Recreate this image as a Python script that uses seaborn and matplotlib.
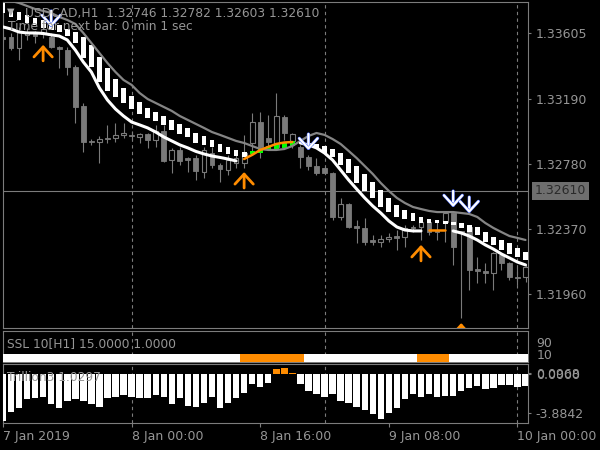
import numpy as np
import pandas as pd
import matplotlib
matplotlib.use("Agg")
import matplotlib.pyplot as plt
import matplotlib.patheffects as pe
import matplotlib.transforms as mtransforms
import seaborn as sns

#---
#data: USDCAD H1, one candle per hour from 7 Jan 2019 08:00
opens = [1.33580, 1.33580, 1.33511, 1.33593, 1.33605, 1.33599, 1.33580, 1.33517, 1.33498, 1.33391,
         1.33145, 1.32925, 1.32918, 1.32944, 1.32944, 1.32963, 1.32963, 1.32950, 1.32969, 1.32931,
         1.32988, 1.32805, 1.32868, 1.32817, 1.32817, 1.32729, 1.32849, 1.32773, 1.32742, 1.32786,
         1.32786, 1.32912, 1.33044, 1.32944, 1.32887, 1.33076, 1.32925, 1.32887, 1.32824, 1.32767,
         1.32755, 1.32723, 1.32446, 1.32528, 1.32389, 1.32377, 1.32301, 1.32289, 1.32307, 1.32326,
         1.32320, 1.32383, 1.32383, 1.32414, 1.32364, 1.32414, 1.32471, 1.32358, 1.32383, 1.32118,
         1.32106, 1.32093, 1.32207, 1.32156, 1.32068, 1.32068]
highs = [1.33593, 1.33605, 1.33643, 1.33637, 1.33618, 1.33656, 1.33605, 1.33523, 1.33517, 1.33404,
         1.33164, 1.32937, 1.32956, 1.33026, 1.33038, 1.33038, 1.32988, 1.32975, 1.32975, 1.33026,
         1.33026, 1.32881, 1.32887, 1.32824, 1.32837, 1.32887, 1.32887, 1.32786, 1.32837, 1.32837,
         1.32963, 1.33101, 1.33107, 1.33089, 1.33227, 1.33089, 1.32975, 1.32900, 1.32837, 1.32817,
         1.32767, 1.32729, 1.32566, 1.32534, 1.32427, 1.32440, 1.32333, 1.32333, 1.32345, 1.32364,
         1.32396, 1.32396, 1.32440, 1.32427, 1.32427, 1.32471, 1.32471, 1.32358, 1.32396, 1.32194,
         1.32156, 1.32225, 1.32219, 1.32162, 1.32131, 1.32144]
lows = [1.33548, 1.33498, 1.33435, 1.33561, 1.33542, 1.33574, 1.33511, 1.33385, 1.33341, 1.33038,
        1.32855, 1.32900, 1.32786, 1.32912, 1.32918, 1.32944, 1.32931, 1.32912, 1.32881, 1.32887,
        1.32792, 1.32723, 1.32773, 1.32729, 1.32679, 1.32692, 1.32755, 1.32666, 1.32711, 1.32755,
        1.32755, 1.32837, 1.32817, 1.32887, 1.32868, 1.32931, 1.32881, 1.32755, 1.32742, 1.32711,
        1.32717, 1.32427, 1.32427, 1.32377, 1.32282, 1.32270, 1.32270, 1.32257, 1.32289, 1.32238,
        1.32257, 1.32351, 1.32301, 1.32333, 1.32301, 1.32289, 1.32144, 1.31810, 1.31986, 1.32030,
        1.32030, 1.31986, 1.32112, 1.32049, 1.32018, 1.32037]
closes = [1.33567, 1.33511, 1.33611, 1.33611, 1.33586, 1.33630, 1.33517, 1.33504, 1.33391, 1.33139,
          1.32918, 1.32918, 1.32937, 1.32937, 1.32963, 1.32975, 1.32956, 1.32969, 1.32931, 1.32988,
          1.32799, 1.32868, 1.32799, 1.32805, 1.32736, 1.32868, 1.32773, 1.32748, 1.32805, 1.32817,
          1.32849, 1.33044, 1.32887, 1.32918, 1.33082, 1.32975, 1.32969, 1.32824, 1.32767, 1.32723,
          1.32723, 1.32446, 1.32528, 1.32383, 1.32377, 1.32289, 1.32289, 1.32307, 1.32320, 1.32314,
          1.32377, 1.32377, 1.32414, 1.32351, 1.32351, 1.32471, 1.32257, 1.32345, 1.32112, 1.32106,
          1.32093, 1.32219, 1.32156, 1.32068, 1.32062, 1.32131]

#white moving average (orange where trend is up)
ma_line = [1.33643, 1.33630, 1.33611, 1.33605, 1.33605, 1.33602, 1.33593, 1.33586, 1.33561, 1.33498,
           1.33422, 1.33359, 1.33259, 1.33183, 1.33126, 1.33082, 1.33044, 1.33026, 1.33007, 1.32981,
           1.32950, 1.32925, 1.32900, 1.32881, 1.32859, 1.32843, 1.32830, 1.32821, 1.32811, 1.32799,
           1.32811, 1.32837, 1.32868, 1.32887, 1.32906, 1.32915, 1.32918, 1.32912, 1.32900, 1.32881,
           1.32849, 1.32805, 1.32742, 1.32679, 1.32622, 1.32566, 1.32515, 1.32471, 1.32421, 1.32383,
           1.32364, 1.32358, 1.32358, 1.32364, 1.32364, 1.32364, 1.32358, 1.32345, 1.32326, 1.32301,
           1.32270, 1.32244, 1.32213, 1.32188, 1.32162, 1.32144]
ma_trend = "dddddddddd" "dddddddddd" "dddddddddd" "uuuuuuuddd" "dddddddddd" "ddduuudddd" "dddddd"

#grey upper line
upper_line = [1.33813, 1.33807, 1.33794, 1.33775, 1.33756, 1.33744, 1.33731, 1.33706, 1.33687, 1.33662,
              1.33605, 1.33542, 1.33479, 1.33416, 1.33359, 1.33309, 1.33278, 1.33227, 1.33189, 1.33164,
              1.33139, 1.33114, 1.33082, 1.33057, 1.33032, 1.33007, 1.32981, 1.32963, 1.32944, 1.32925,
              1.32912, 1.32893, 1.32874, 1.32868, 1.32868, 1.32874, 1.32893, 1.32925, 1.32956, 1.32975,
              1.32963, 1.32937, 1.32906, 1.32862, 1.32817, 1.32767, 1.32717, 1.32660, 1.32610, 1.32566,
              1.32534, 1.32509, 1.32496, 1.32484, 1.32477, 1.32477, 1.32477, 1.32471, 1.32465, 1.32446,
              1.32408, 1.32377, 1.32351, 1.32326, 1.32314, 1.32301]

#band blocks between the two lines
band_top = [1.33794, 1.33756, 1.33737, 1.33719, 1.33700, 1.33687, 1.33668, 1.33656, 1.33630, 1.33611,
            1.33580, 1.33530, 1.33454, 1.33385, 1.33315, 1.33259, 1.33208, 1.33170, 1.33133, 1.33107,
            1.33082, 1.33057, 1.33032, 1.33007, 1.32975, 1.32956, 1.32931, 1.32906, 1.32887, 1.32868,
            1.32855, 1.32862, 1.32874, 1.32893, 1.32906, 1.32918, 1.32925, np.nan, 1.32912, 1.32906,
            1.32893, 1.32874, 1.32849, 1.32811, 1.32767, 1.32717, 1.32666, 1.32616, 1.32566, 1.32522,
            1.32490, 1.32471, 1.32446, 1.32433, 1.32427, 1.32421, 1.32414, 1.32408, 1.32396, 1.32383,
            1.32351, 1.32320, 1.32301, 1.32282, 1.32251, 1.32225]
band_bot = [1.33731, 1.33706, 1.33687, 1.33668, 1.33656, 1.33637, 1.33624, 1.33611, 1.33586, 1.33542,
            1.33448, 1.33391, 1.33296, 1.33240, 1.33202, 1.33164, 1.33126, 1.33095, 1.33070, 1.33051,
            1.33026, 1.32994, 1.32969, 1.32950, 1.32912, 1.32900, 1.32887, 1.32855, 1.32843, 1.32830,
            1.32824, 1.32843, 1.32849, 1.32868, 1.32874, 1.32881, 1.32893, np.nan, 1.32887, 1.32881,
            1.32849, 1.32824, 1.32773, 1.32723, 1.32660, 1.32610, 1.32566, 1.32509, 1.32477, 1.32446,
            1.32433, 1.32421, 1.32408, 1.32408, 1.32408, 1.32402, 1.32396, 1.32377, 1.32351, 1.32333,
            1.32289, 1.32270, 1.32238, 1.32213, 1.32194, 1.32175]
band_trend = "dddddddddd" "dddddddddd" "dddddddddd" "duuuuuuddd" "dddddddddd" "dddddddddd" "dddddd"

#signal arrows (bar, price at tip)
up_bars = [5, 30, 52, 57]
up_prices = [1.33530, 1.32729, 1.32270, 1.31778]
down_bars = [6, 38, 56, 58]
down_prices = [1.33643, 1.32868, 1.32509, 1.32471]

#SSL state bar
ssl_level = 10
ssl_trend = "dddddddddd" "dddddddddd" "dddddddddd" "uuuuuuuudd" "dddddddddd" "dduuuudddd" "dddddd"

#Trillion3 histogram
trillion = [-4.65, -3.75, -3.41, -2.52, -2.42, -2.29, -2.99, -3.35, -2.66, -2.52,
            -2.66, -3.01, -3.25, -2.42, -2.26, -2.09, -2.29, -2.36, -2.36, -2.09,
            -2.26, -2.96, -2.42, -3.15, -3.25, -2.86, -2.26, -3.35, -2.86, -2.42,
            -1.92, -1.02, -1.26, -0.87, 0.45, 0.55, 0.08, -1.00, -1.70, -2.00,
            -2.30, -2.00, -2.70, -2.90, -3.30, -3.60, -4.00, -4.45, -3.90, -3.35,
            -2.50, -2.00, -2.30, -2.00, -2.30, -2.20, -2.20, -1.70, -1.40, -1.20,
            -1.50, -1.40, -1.10, -1.10, -1.30, -1.20]

price_ticks = [1.33605, 1.33190, 1.32780, 1.32370, 1.31960]
last_price = 1.32610
trillion_ticks = [0.0968, 0.0, -3.8842]
time_ticks = [0, 16, 32, 48, 64]
time_labels = ["7 Jan 2019", "8 Jan 00:00", "8 Jan 16:00", "9 Jan 08:00", "10 Jan 00:00"]
day_bars = [16, 40, 64]
#---

#---
#style
sns.set_style("dark", {"axes.facecolor": "black", "figure.facecolor": "black",
                       "axes.edgecolor": "#7c7c7c", "axes.grid": False})
plt.rcParams["font.family"] = ["DejaVu Sans"]

txt_gray = "#969696"
frame_gray = "#7c7c7c"
candle_gray = "#7a7a7a"
line_gray = "#858585"
orange = "#ff8c00"
lime = "#00ff00"

bars = np.arange(len(opens))
o = np.array(opens)
c = np.array(closes)
x_lo, x_hi = 0.01, 65.31

fig = plt.figure(figsize=(6, 4.5), dpi=100)
ax = fig.add_axes([3 / 600, 122 / 450, 525 / 600, 326 / 450])
ax_ssl = fig.add_axes([3 / 600, 88 / 450, 525 / 600, 31 / 450])
ax_tr = fig.add_axes([3 / 600, 27 / 450, 525 / 600, 59 / 450])


def runs(flags, key):
	out = []
	start = None
	for i, f in enumerate(flags):
		if f == key and start is None:
			start = i
		if f != key and start is not None:
			out.append((start, i))
			start = None
	if start is not None:
		out.append((start, len(flags)))
	return out
#---

#---
#main price panel
ax.set_xlim(x_lo, x_hi)
ax.set_ylim(1.317467, 1.33800)
for b in day_bars:
	ax.axvline(b, color=frame_gray, lw=0.8, ls=(0, (3, 3)), zorder=1)
ax.axhline(last_price, color=frame_gray, lw=0.8, zorder=1)

bear = c < o
body_lo = np.minimum(o, c)
body_h = np.maximum(np.abs(c - o), 0.00002)
ax.vlines(bars, lows, highs, color=candle_gray, lw=0.8, zorder=2)
ax.bar(bars[bear], body_h[bear], bottom=body_lo[bear], width=0.6, color=candle_gray,
       edgecolor=candle_gray, lw=0.6, zorder=3)
ax.bar(bars[~bear], body_h[~bear], bottom=body_lo[~bear], width=0.6, color="black",
       edgecolor=candle_gray, lw=0.8, zorder=3)

band_top = np.array(band_top)
band_bot = np.array(band_bot)
band_cols = ["white" if t == "d" else lime for t in band_trend]
ax.bar(bars, band_top - band_bot, bottom=band_bot, width=0.6, color=band_cols, lw=0, zorder=4)

sns.lineplot(x=bars, y=upper_line, ax=ax, color=line_gray, lw=1.6, estimator=None, zorder=5)
ma = np.array(ma_line)
for s, e in runs(ma_trend, "d"):
	sns.lineplot(x=bars[s:e], y=ma[s:e], ax=ax, color="white", lw=2.2, estimator=None, zorder=6)
for s, e in runs(ma_trend, "u"):
	sns.lineplot(x=bars[s:e], y=ma[s:e], ax=ax, color=orange, lw=1.8, estimator=None, zorder=6)

arrow_style = "->,head_length=0.6,head_width=0.55"
for b, p in zip(up_bars, up_prices):
	a = ax.annotate("", xy=(b, p), xytext=(0, -11.5), textcoords="offset points",
	                arrowprops=dict(arrowstyle=arrow_style, color=orange,
	                                lw=2.0, mutation_scale=12, shrinkA=0, shrinkB=0), zorder=8)
	a.arrow_patch.set_clip_box(ax.bbox)
	a.arrow_patch.set_clip_on(True)
for b, p in zip(down_bars, down_prices):
	a = ax.annotate("", xy=(b, p), xytext=(0, 11.5), textcoords="offset points",
	                arrowprops=dict(arrowstyle=arrow_style, color="white",
	                                lw=1.6, mutation_scale=12, shrinkA=0, shrinkB=0), zorder=8)
	a.arrow_patch.set_path_effects([pe.Stroke(linewidth=2.3, foreground="#4a6cff"), pe.Normal()])

ax.set_xticks([])
ax.yaxis.tick_right()
ax.set_yticks(price_ticks)
ax.set_yticklabels([f"{p:.5f}" for p in price_ticks])
ax.tick_params(axis="y", colors=frame_gray, labelcolor=txt_gray, length=2.5, width=0.8,
               pad=3, labelsize=9)
ax.set_xlabel("")
ax.set_ylabel("")
trans = mtransforms.blended_transform_factory(ax.transAxes, ax.transData)
ax.text(1.0133, last_price, f"{last_price:.5f}", transform=trans, ha="left", va="center",
        fontsize=9, color="#2a2a2a", clip_on=False,
        bbox=dict(boxstyle="square,pad=0.2", fc="#6e6e6e", ec="none"))

fig.text(11 / 600, 1 - 12 / 450, "\u25bc", fontsize=7, color="#b0b0b0", ha="center", va="center", zorder=0)
fig.text(25 / 600, 1 - 14 / 450, "USDCAD,H1  1.32746 1.32782 1.32603 1.32610",
         fontsize=8.8, color=txt_gray, ha="left", va="center", zorder=0)
fig.text(8 / 600, 1 - 26 / 450, "Time for next bar: 0 min 1 sec",
         fontsize=8.8, color=txt_gray, ha="left", va="center", zorder=0)
#---

#---
#SSL panel
ax_ssl.set_xlim(x_lo, x_hi)
ax_ssl.set_ylim(-43.3, 163.3)
for b in day_bars:
	ax_ssl.axvline(b, color=frame_gray, lw=0.8, ls=(0, (3, 3)), zorder=1)
ssl_floor = ax_ssl.get_ylim()[0]
ssl_cols = ["white" if t == "d" else orange for t in ssl_trend]
ax_ssl.bar(bars, ssl_level - ssl_floor, bottom=ssl_floor, width=1.0, color=ssl_cols, lw=0, zorder=3)
ax_ssl.set_xticks([])
ax_ssl.yaxis.tick_right()
ax_ssl.set_yticks([90, 10])
ax_ssl.set_yticklabels(["90", "10"])
ax_ssl.tick_params(axis="y", colors=frame_gray, labelcolor=txt_gray, length=0, pad=6, labelsize=9)
ax_ssl.text(0.008, 0.6, "SSL 10[H1] 15.0000 1.0000", transform=ax_ssl.transAxes, fontsize=8.8,
            color=txt_gray, ha="left", va="center")
#---

#---
#Trillion3 panel
trDf = pd.DataFrame({"bar": bars, "value": trillion})
trDf["side"] = np.where(trDf["value"] > 0, "up", "down")
sns.barplot(data=trDf, x="bar", y="value", hue="side", palette={"up": orange, "down": "white"},
            native_scale=True, dodge=False, width=0.8, saturation=1, errorbar=None,
            legend=False, lw=0, ax=ax_tr, zorder=3)
ax_tr.set_xlim(x_lo, x_hi)
ax_tr.set_ylim(-4.876, 0.995)
for b in day_bars:
	ax_tr.axvline(b, color=frame_gray, lw=0.8, ls=(0, (3, 3)), zorder=1)
ax_tr.yaxis.tick_right()
ax_tr.set_yticks(trillion_ticks)
ax_tr.set_yticklabels([f"{v:.4f}" for v in trillion_ticks])
ax_tr.tick_params(axis="y", colors=frame_gray, labelcolor=txt_gray, length=2.5, width=0.8,
                  pad=3, labelsize=9)
ax_tr.set_xticks(time_ticks)
ax_tr.set_xticklabels(time_labels, ha="left")
ax_tr.tick_params(axis="x", colors=frame_gray, labelcolor=txt_gray, length=3, width=0.8,
                  pad=2, labelsize=9, bottom=True)
ax_tr.set_xlabel("")
ax_tr.set_ylabel("")
ax_tr.text(0.008, 0.77, "Trillion3 1.0297", transform=ax_tr.transAxes, fontsize=8.8,
           color=txt_gray, ha="left", va="center", zorder=6)
#---

for a in [ax, ax_ssl, ax_tr]:
	for sp in a.spines.values():
		sp.set_color(frame_gray)
		sp.set_linewidth(0.8)
		sp.set_visible(True)

plt.savefig("out.png", dpi=100, facecolor="black")
